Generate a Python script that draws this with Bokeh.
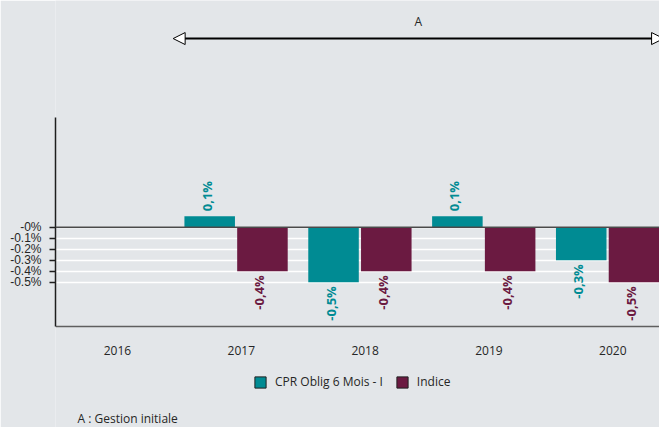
import math
from bokeh.plotting import figure
from bokeh.models import (ColumnDataSource, Range1d, FixedTicker, Span, Arrow,
                          NormalHead, Label, Legend, LegendItem)
from bokeh.transform import dodge
from bokeh.core.properties import value, field
from bokeh.embed import file_html
from bokeh.resources import INLINE

# ---------------- data ----------------
years = [2016, 2017, 2018, 2019, 2020]
fund_values = [None, 0.1, -0.5, 0.1, -0.3]
index_values = [None, -0.4, -0.4, -0.4, -0.5]
series_names = ["CPR Oblig 6 Mois - I", "Indice"]
y_ticks = [0, -0.1, -0.2, -0.3, -0.4, -0.5]
y_tick_labels = ["-0%", "-0.1%", "-0.2%", "-0.3%", "-0.4%", "-0.5%"]
y_axis_bounds = (-0.9, 1.0)
period_label = "A"
period_start = 2016.45
period_end = 2020.41
footnote = "A : Gestion initiale"

# ---------------- style ----------------
TEAL = "#008b93"
PLUM = "#6b1a41"
BG = "#e3e6e9"
TXT = "#262626"
FONT = "Open Sans"


def fmt(v):
    return f"{v:.1f}".replace(".", ",") + "%"


def make_source(vals):
    xs = [y for y, v in zip(years, vals) if v is not None]
    vs = [v for v in vals if v is not None]
    return ColumnDataSource(dict(
        year=xs, val=vs, label=[fmt(v) for v in vs],
        align=["left" if v >= 0 else "right" for v in vs],
        yoff=[-5 if v >= 0 else 4 for v in vs]))


p = figure(width=659, height=427,
           x_range=Range1d(2015.5, 2020.377), y_range=Range1d(-1.821, 2.061),
           output_backend="svg", toolbar_location=None,
           min_border_left=55, min_border_right=0, min_border_top=0,
           min_border_bottom=0,
           background_fill_color=BG, border_fill_color=BG,
           outline_line_color=None)

# grid
p.xgrid.visible = False
p.ygrid.ticker = FixedTicker(ticks=y_ticks)
p.ygrid.grid_line_color = "white"
p.ygrid.grid_line_width = 1.5

# y axis
p.yaxis.ticker = FixedTicker(ticks=y_ticks)
p.yaxis.major_label_overrides = dict(zip(y_ticks, y_tick_labels))
p.yaxis.bounds = y_axis_bounds
p.yaxis.axis_line_color = "#1e1e1e"
p.yaxis.axis_line_width = 1.5
p.yaxis.major_tick_line_color = "#1e1e1e"
p.yaxis.major_tick_line_width = 1.5
p.yaxis.major_tick_in = 0
p.yaxis.major_tick_out = 6
p.yaxis.minor_tick_line_color = None
p.yaxis.major_label_standoff = 8
p.yaxis.major_label_text_font = "Liberation Sans"
p.yaxis.major_label_text_font_size = "12px"
p.yaxis.major_label_text_color = TXT

# x axis (drawn at the bottom of the value axis)
p.xaxis.fixed_location = y_axis_bounds[0]
p.xaxis.ticker = FixedTicker(ticks=years)
p.xaxis.major_label_overrides = {y: str(y) for y in years}
p.xaxis.axis_line_color = "#5f5f5f"
p.xaxis.axis_line_width = 1.5
p.xaxis.major_tick_line_color = None
p.xaxis.minor_tick_line_color = None
p.xaxis.major_tick_in = 0
p.xaxis.major_tick_out = 0
p.xaxis.major_label_standoff = 20
p.xaxis.major_label_text_font = FONT
p.xaxis.major_label_text_font_size = "12px"
p.xaxis.major_label_text_color = TXT

BAR_W = 0.408
series = [(fund_values, -0.255, TEAL), (index_values, 0.171, PLUM)]
proxies = []
for (vals, off, col), name in zip(series, series_names):
    src = make_source(vals)
    xpos = dodge("year", off, range=p.x_range)
    p.vbar(x=xpos, top="val", bottom=0, width=BAR_W, source=src,
           fill_color=col, line_color=None)
    p.text(x=xpos, y="val", text="label", source=src, angle=math.pi / 2,
           text_align=field("align"), text_baseline="middle",
           x_offset=-3, y_offset=field("yoff"), text_font=value(FONT),
           text_font_style="bold", text_font_size="13px", text_color=col)
    # legend swatch (outlined), not drawn in the plot itself
    proxy = p.vbar(x=xpos, top="val", bottom=0, width=BAR_W, source=src,
                   fill_color=col, line_color="#222222", line_width=1,
                   visible=False)
    proxies.append((name, proxy))

p.add_layout(Span(location=0, dimension="width", line_color="#4a4a4a",
                  line_width=1.5))

# period arrow
p.add_layout(Arrow(x_start=period_start, x_end=period_end,
                   y_start=1.715, y_end=1.715, line_width=2, line_color="black",
                   start=NormalHead(size=12, fill_color="white",
                                    line_color="black", line_width=1),
                   end=NormalHead(size=12, fill_color="white",
                                  line_color="black", line_width=1)))
p.add_layout(Label(x=(period_start + period_end) / 2, y=1.87, text=period_label,
                   text_align="center", text_baseline="middle",
                   text_font=FONT, text_font_size="12px", text_color=TXT))

legend = Legend(items=[LegendItem(label=n, renderers=[r]) for n, r in proxies],
                orientation="horizontal", location=(198, 37),
                background_fill_alpha=0, border_line_color=None,
                inactive_fill_alpha=0,
                padding=0, margin=0, spacing=12, label_standoff=8,
                glyph_width=14, glyph_height=14, label_height=14,
                label_text_font=FONT, label_text_font_size="12px",
                label_text_color=TXT)
p.add_layout(legend)

p.add_layout(Label(x=22, y=9, x_units="screen", y_units="screen",
                   text=footnote, text_baseline="middle", text_font=FONT,
                   text_font_size="12px", text_color=TXT))

open("out.html", "w").write(file_html(p, INLINE))
